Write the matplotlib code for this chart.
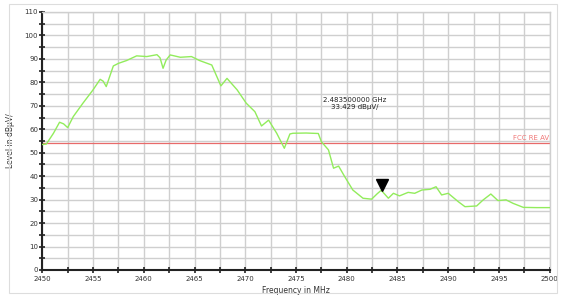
import matplotlib
matplotlib.use("Agg")
import matplotlib.pyplot as plt
from matplotlib.patches import Rectangle
from matplotlib.transforms import offset_copy

freq_mhz = [2450.0, 2450.4, 2451.1, 2451.7, 2452.1, 2452.5, 2453.05, 2454.0, 2455.0, 2455.7,
            2456.0, 2456.3, 2457.0, 2457.5, 2458.3, 2459.3, 2460.3, 2461.3, 2461.6, 2461.9,
            2462.2, 2462.6, 2463.6, 2464.7, 2465.5, 2466.7, 2467.6, 2468.2, 2469.2, 2470.1,
            2470.95, 2471.6, 2472.3, 2473.1, 2473.85, 2474.4, 2474.7, 2476.0, 2477.2, 2477.5,
            2478.2, 2478.7, 2479.2, 2479.8, 2480.6, 2481.6, 2482.45, 2483.0, 2483.4, 2484.1,
            2484.6, 2485.2, 2486.05, 2486.7, 2487.4, 2488.2, 2488.8, 2489.35, 2490.0, 2491.0,
            2491.65, 2492.8, 2493.45, 2494.2, 2494.9, 2495.7, 2496.4, 2497.4, 2498.7, 2500.0]
level_dbuv = [53.5, 53.7, 58.3, 63.0, 62.3, 60.7, 65.4, 71.1, 76.8, 81.3,
              80.5, 78.2, 87.0, 88.1, 89.3, 91.3, 91.0, 91.8, 90.5, 86.0,
              89.5, 91.7, 90.7, 91.0, 89.3, 87.4, 78.5, 81.7, 76.8, 71.1,
              67.5, 61.4, 63.9, 58.3, 51.9, 58.0, 58.3, 58.4, 58.2, 54.7,
              51.2, 43.4, 44.3, 39.8, 34.1, 30.6, 30.2, 32.5, 34.0, 30.6,
              32.7, 31.6, 33.1, 32.7, 34.1, 34.4, 35.5, 32.0, 32.7, 29.1,
              27.0, 27.3, 29.9, 32.4, 29.6, 29.9, 28.4, 26.7, 26.6, 26.6]

limit_level = 54.0
limit_label = "FCC RE AV"
marker_freq = 2483.5
marker_level = 33.429
marker_text = "2.483500000 GHz\n33.429 dBµV/"
x_label = "Frequency in MHz"
y_label = "Level in dBµV/"

fig = plt.figure(figsize=(5.61, 2.97), dpi=100)
fig.patches.append(Rectangle((9/561, 4/297), 548/561, 289/297, transform=fig.transFigure,
                             fill=False, edgecolor="#dddddd", linewidth=0.8))
ax = fig.add_axes([42.3/561, 27/297, 507.4/561, 258/297])

ax.set_xlim(2450, 2500)
ax.set_ylim(0, 110)
ax.set_xticks(range(2450, 2501, 5))
ax.set_xticks([2450 + 2.5 * i for i in range(21)], minor=True)
ax.set_yticks(range(0, 111, 10))
ax.set_yticks(range(0, 111, 5), minor=True)
ax.grid(True, which="both", color="#cfcfcf", linewidth=1.0)
ax.set_axisbelow(True)

for s in ["top", "right"]:
    ax.spines[s].set_color("#cfcfcf")
    ax.spines[s].set_linewidth(1.0)
for s in ["left", "bottom"]:
    ax.spines[s].set_color("#222222")
    ax.spines[s].set_linewidth(1.5)

ax.tick_params(which="both", direction="inout", length=4, width=1.2, color="#222222",
               labelsize=5, pad=2, labelcolor="#333333")
ax.tick_params(axis="y", pad=1)

ax.plot(freq_mhz, level_dbuv, color="#92ec5c", linewidth=1.0, zorder=3,
        solid_joinstyle="round")
ax.axhline(limit_level, color="#e86a6a", linewidth=0.9, zorder=2)
ax.text(2499.9, limit_level + 0.8, limit_label, color="#f07878", fontsize=5,
        ha="right", va="bottom")

tr = offset_copy(ax.transData, fig=fig, x=0, y=5, units="points")
ax.plot([marker_freq], [marker_level], marker="v", color="black", markersize=8,
        transform=tr, zorder=4, linestyle="none")
ax.text(2480.8, 71.0, marker_text, fontsize=5, ha="center", va="center",
        linespacing=1.2, color="#222222")

ax.set_xlabel(x_label, fontsize=5.5, labelpad=3, color="#333333")
ax.set_ylabel(y_label, fontsize=5.5, labelpad=7, color="#333333")

fig.savefig("out.png", dpi=100)
